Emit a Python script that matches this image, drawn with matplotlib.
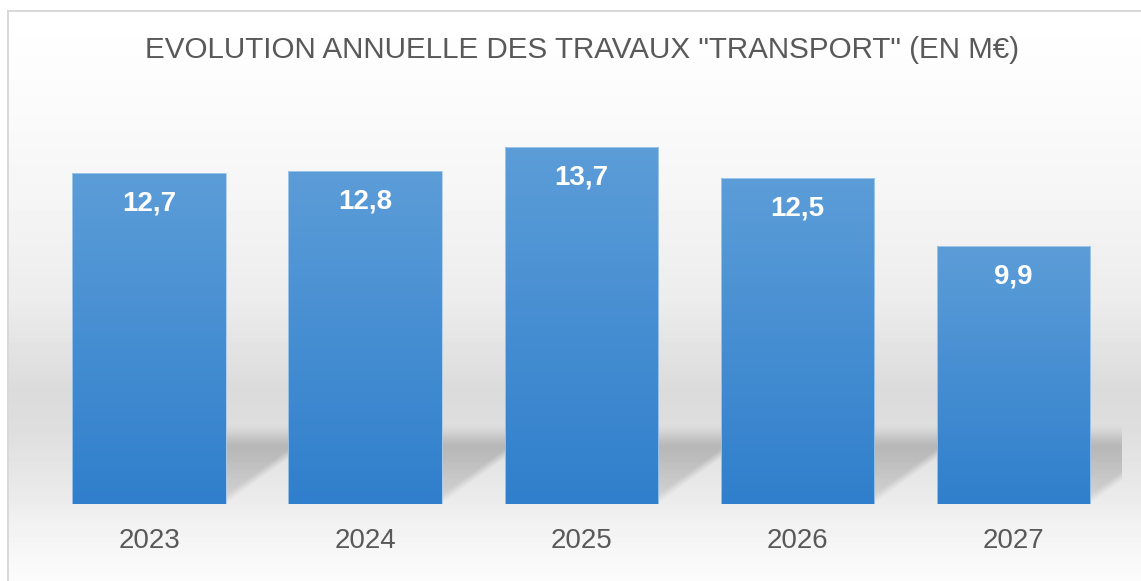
import numpy as np
import matplotlib
matplotlib.use("Agg")
import matplotlib.pyplot as plt

# Données du graphique
annees = ["2023", "2024", "2025", "2026", "2027"]
valeurs = [12.7, 12.8, 13.7, 12.5, 9.9]
titre = 'EVOLUTION ANNUELLE DES TRAVAUX "TRANSPORT" (EN M€)'

plt.rcParams['font.family'] = ['Liberation Sans', 'DejaVu Sans']

W, H = 1141, 581
fig = plt.figure(figsize=(W / 100, H / 100), dpi=100)

# Fond dégradé gris avec cadre
rows = np.arange(H)
gris = np.interp(rows, [10, 80, 200, 300, 390, 430, 503, 520, 581],
                 [255, 252, 245, 236, 219, 222, 236, 241, 252])
fond = np.repeat(gris[:, None], W, axis=1)
fond[:10, :] = 255
fond[:, :7] = 255
fond[10:12, 7:] = 217
fond[10:, 7:9] = 217
bg = fig.add_axes([0, 0, 1, 1])
bg.imshow(fond / 255.0, cmap='gray', vmin=0, vmax=1, extent=[0, W, H, 0],
          aspect='auto', interpolation='bilinear')
bg.axis('off')

# Zone du graphique
ymax = 15.5
px_par_unite = 26.05
ax = fig.add_axes([41 / W, 77 / H, 1080.5 / W, ymax * px_par_unite / H])
ax.set_facecolor('none')
x = np.arange(len(annees))
largeur = 0.71

barres = ax.bar(x, valeurs, width=largeur, facecolor='none',
                edgecolor='#a9cbec', linewidth=0.6, zorder=3)

# Ombre portée derrière les barres
xs = np.linspace(-0.5, len(annees) - 0.5, 1200)
ys = np.linspace(0, 3.4, 260)
XX, YY = np.meshgrid(xs, ys)
pente = 0.1665
masque = np.zeros_like(XX)
for b in barres:
    gauche = b.get_x()
    droite = b.get_x() + b.get_width()
    bord_g = np.clip((XX - (gauche + pente * YY)) / 0.06, 0, 1)
    bord_d = np.clip(((droite + pente * YY) - XX) / 0.06, 0, 1)
    masque = np.maximum(masque, bord_g * bord_d)
haut = np.clip((3.1 - YY) / 1.0, 0, 1)
haut = haut * haut * (3 - 2 * haut)
profil = haut * (0.5 + 0.5 * np.clip(YY / 2.2, 0, 1))
alpha = 0.19 * masque * profil
ombre = np.zeros(XX.shape + (4,))
ombre[..., 3] = alpha
ax.imshow(ombre, extent=[xs[0], xs[-1], ys[0], ys[-1]], origin='lower',
          aspect='auto', interpolation='bilinear', zorder=0.5)

# Dégradé bleu dans chaque barre
haut_c = np.array([92, 157, 216]) / 255.0
bas_c = np.array([48, 127, 204]) / 255.0
t = np.linspace(0, 1, 256)[:, None]
degrade = (bas_c[None, :] * (1 - t) + haut_c[None, :] * t)[:, None, :]
for b in barres:
    im = ax.imshow(degrade, extent=[b.get_x(), b.get_x() + b.get_width(),
                                     0, b.get_height()],
                   origin='lower', aspect='auto', zorder=2)
    im.set_clip_path(b)

# Étiquettes de valeurs
for xi, v in zip(x, valeurs):
    ax.annotate(f"{v:.1f}".replace('.', ','), (xi, v), xytext=(0, -22),
                textcoords='offset points', ha='center', va='center',
                color='white', fontsize=20, fontweight='bold', zorder=4)

ax.set_xlim(-0.5, len(annees) - 0.5)
ax.set_ylim(0, ymax)
ax.set_xticks(x)
ax.set_xticklabels(annees, fontsize=20, color='#595959')
ax.tick_params(axis='x', length=0, pad=17)
ax.set_yticks([])
for s in ax.spines.values():
    s.set_visible(False)

fig.text(582 / W, 1 - 50 / H, titre, ha='center', va='center',
         fontsize=21.3, color='#595959')

fig.savefig('out.png', dpi=100)
